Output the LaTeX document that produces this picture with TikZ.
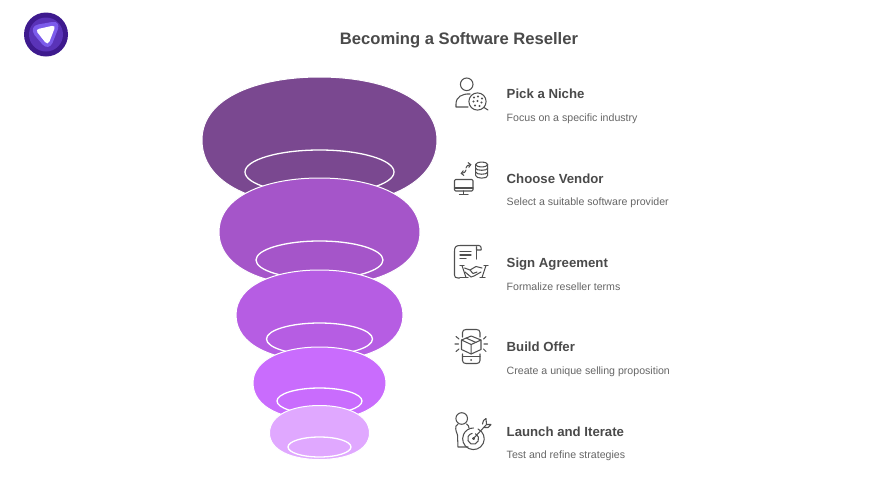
\documentclass[tikz,border=0pt]{standalone}
\usepackage{fontspec}
\usetikzlibrary{arrows.meta}
\setmainfont{Liberation Sans}
\definecolor{ink}{HTML}{4A4A4A}
\definecolor{subink}{HTML}{666666}
\definecolor{iconink}{HTML}{505050}
\definecolor{blobA}{HTML}{7A4890}
\definecolor{blobB}{HTML}{A555C9}
\definecolor{blobC}{HTML}{B65DE3}
\definecolor{blobD}{HTML}{C96CFD}
\definecolor{blobE}{HTML}{E0A8FF}
\definecolor{lgA}{HTML}{3E1A8E}
\definecolor{lgB}{HTML}{5A33B8}
\definecolor{lgC}{HTML}{7C5CEB}
\newcommand{\blobshape}[6]{% colour, cx, top, rx, mid, bottom
 \pgfmathsetmacro{\bl}{#2-#4}\pgfmathsetmacro{\br}{#2+#4}
 \pgfmathsetmacro{\ca}{#2+0.52*#4}\pgfmathsetmacro{\cb}{#2-0.52*#4}
 \pgfmathsetmacro{\ta}{#5-0.68*(#5-#3)}\pgfmathsetmacro{\tb}{#5+0.66*(#6-#5)}
 \pgfmathsetmacro{\da}{#2+0.55*#4}\pgfmathsetmacro{\db}{#2-0.55*#4}
 \draw[blobline,fill=#1] (#2,#3) .. controls (\ca,#3) and (\br,\ta) .. (\br,#5)
  .. controls (\br,\tb) and (\da,#6) .. (#2,#6)
  .. controls (\db,#6) and (\bl,\tb) .. (\bl,#5)
  .. controls (\bl,\ta) and (\cb,#3) .. (#2,#3) -- cycle;}
\tikzset{
 blobline/.style={draw=white,line width=1pt},
 ring/.style={draw=white,line width=1.3pt},
 ico/.style={draw=iconink,line width=1.05pt,line cap=round,line join=round},
 head/.style={anchor=base west,text=ink,font=\fontsize{13.2}{16}\selectfont\bfseries,inner sep=0pt},
 sub/.style={anchor=base west,text=subink,font=\fontsize{10.6}{12}\selectfont,inner sep=0pt},
}
\begin{document}
\begin{tikzpicture}[x=1pt,y=-1pt]
\useasboundingbox[fill=white] (0,0) rectangle (876,493);
% logo
\fill[lgA] (46,34.5) circle (22);
\fill[lgB] (46,34.5) circle (17);
\fill[lgC] (38,24.5) -- (52,22) .. controls (58,21) and (59,25) .. (58,29) -- (52.5,43) .. controls (50,48) and (46,48) .. (42.5,44.5) -- (34.5,35) .. controls (31,30) and (33,25.5) .. (38,24.5) -- cycle;
\fill[white] (39,28.8) -- (52,25.9) .. controls (54.5,25.4) and (55,27) .. (54.3,29) -- (49.5,41.5) .. controls (48.5,44) and (46.5,44) .. (45,42) -- (37.5,32.5) .. controls (36,30.5) and (37,29.2) .. (39,28.8) -- cycle;
% title
\node[text=ink,font=\fontsize{16.6}{20}\selectfont\bfseries,inner sep=0pt] (title) at (459,40.5) {Becoming a Software Reseller};
% funnel
\blobshape{blobA}{319.5}{77}{117.5}{140}{206}
\draw[ring] (319.5,172) ellipse (74.5 and 22);
\blobshape{blobB}{319.5}{178}{100.5}{232}{286}
\draw[ring] (319.5,260) ellipse (63.5 and 19);
\blobshape{blobC}{319.5}{270}{83.5}{315}{361}
\draw[ring] (319.5,339) ellipse (53 and 16);
\blobshape{blobD}{319.5}{347}{66.5}{383}{420}
\draw[ring] (319.5,401) ellipse (42.5 and 13);
\blobshape{blobE}{319.5}{405.5}{50}{433}{459.5}
\draw[ring] (319.5,447) ellipse (31.5 and 10);
% labels
\node[head] (h1) at (506.5,98.7) {Pick a Niche};
\node[sub] (s1) at (506.5,121.5) {Focus on a specific industry};
\node[head] (h2) at (506.5,183) {Choose Vendor};
\node[sub] (s2) at (506.5,205.8) {Select a suitable software provider};
\node[head] (h3) at (506.5,267.2) {Sign Agreement};
\node[sub] (s3) at (506.5,290.2) {Formalize reseller terms};
\node[head] (h4) at (506.5,351.6) {Build Offer};
\node[sub] (s4) at (506.5,374.5) {Create a unique selling proposition};
\node[head] (h5) at (506.5,436) {Launch and Iterate};
\node[sub] (s5) at (506.5,458.9) {Test and refine strategies};
% icon 1
\draw[ico] (466.7,84.3) circle (6.3);
\draw[ico] (468,107) -- (456,107) -- (456,104) .. controls (456,97) and (462,93.5) .. (470,94);
\draw[ico] (477.5,101.5) circle (8.6);
\draw[ico] (484,107.5) -- (488,110);
\foreach \px/\py in {474/97.5,478/96.5,482/98.5,473.5/101.5,477.5/101,481.5/102.5,475/105.5,479.5/106}
 \fill[iconink] (\px,\py) circle (1.2);
% icon 2
\draw[ico] (481.7,164.5) ellipse (6 and 2.4);
\draw[ico] (475.7,164.5) -- (475.7,175.5) .. controls (475.7,179) and (487.7,179) .. (487.7,175.5) -- (487.7,164.5);
\draw[ico] (475.7,168.2) .. controls (475.7,171) and (487.7,171) .. (487.7,168.2);
\draw[ico] (475.7,172) .. controls (475.7,175) and (487.7,175) .. (487.7,172);
\draw[ico,-{Straight Barb[length=2.5pt,width=5pt]}] (466,168) .. controls (466,166) and (468,165) .. (471.5,164.5);
\draw[ico,-{Straight Barb[length=2.5pt,width=5pt]}] (466,170) .. controls (466,172) and (464,173) .. (460.5,173.5);
\draw[ico,rounded corners=1.2pt] (454.5,179.5) rectangle (473,191);
\draw[ico] (454.5,188) -- (473,188);
\draw[ico] (463.8,191) -- (463.8,194) (459.5,194.5) -- (468,194.5);
% icon 3
\draw[ico] (459.5,278) -- (458,278) .. controls (455.5,278) and (454.5,277) .. (454.5,275) -- (454.5,251) .. controls (454.5,247) and (456,245.5) .. (460,245.5) -- (479,245.5) .. controls (481.5,245.5) and (481.5,250) .. (481,250) -- (476.5,250) -- (476.5,247);
\draw[ico] (476.5,250) -- (476.5,259);
\draw[ico] (460,251.5) -- (471,251.5) (460,255) -- (471,255) (460,258.5) -- (466,258.5);
\draw[ico] (464.5,268) -- (470,270) -- (476,266.5) -- (482,268);
\draw[ico] (465,272) -- (471,277) -- (474,276) -- (481,272);
\draw[ico] (470,270) -- (473,273.5) -- (477,272);
\draw[ico] (462,265.5) -- (466,277.5) (486,265.5) -- (482,277.5);
\draw[ico] (460,265.5) -- (464,265.5) (460,277.5) -- (468,277.5) (484,265.5) -- (488,265.5) (480,277.5) -- (485,277.5);
% icon 4
\draw[ico] (462.5,337) -- (462.5,332.5) .. controls (462.5,330.5) and (464,329.5) .. (466,329.5) -- (476.5,329.5) .. controls (478.5,329.5) and (480,330.5) .. (480,332.5) -- (480,337);
\draw[ico] (462.5,354) -- (462.5,360.5) .. controls (462.5,362.5) and (464,363.5) .. (466,363.5) -- (476.5,363.5) .. controls (478.5,363.5) and (480,362.5) .. (480,360.5) -- (480,354);
\draw[ico] (462.5,356.5) -- (480,356.5);
\fill[iconink] (471.2,360) circle (1);
\draw[ico] (471.2,336) -- (481,340) -- (481,349.5) -- (471.2,354) -- (461.5,349.5) -- (461.5,340) -- cycle;
\draw[ico] (461.5,340) -- (471.2,344.5) -- (481,340) (471.2,344.5) -- (471.2,354);
\draw[ico] (466,338) -- (476,342.5);
\draw[ico] (456,336.5) -- (459,339) (455,344) -- (458.5,344) (456,351.5) -- (459,349);
\draw[ico] (486,336.5) -- (483.5,339) (487.5,344) -- (484,344) (486,351.5) -- (483.5,349);
% icon 5
\draw[ico] (461.7,418.5) circle (5.8);
\draw[ico] (458,424) -- (456,426) .. controls (455,430) and (457,433) .. (457.5,435) -- (458,447) -- (468,447);
\draw[ico] (466.5,424) .. controls (468,425) and (469,426) .. (469,428);
\draw[ico] (478,429) arc[start angle=-65,end angle=270,radius=10.8];
\draw[ico] (475.5,433.8) arc[start angle=-65,end angle=260,radius=5.5];
\draw[ico] (473.5,438.5) circle (1);
\draw[ico] (473.5,438.5) -- (486,425);
\draw[ico] (482.5,424) -- (483.5,420.5) -- (486,418.5) -- (486.5,424.5) -- (491,424.5) -- (488,427.5) -- (484.5,427.5);
\end{tikzpicture}
\end{document}
